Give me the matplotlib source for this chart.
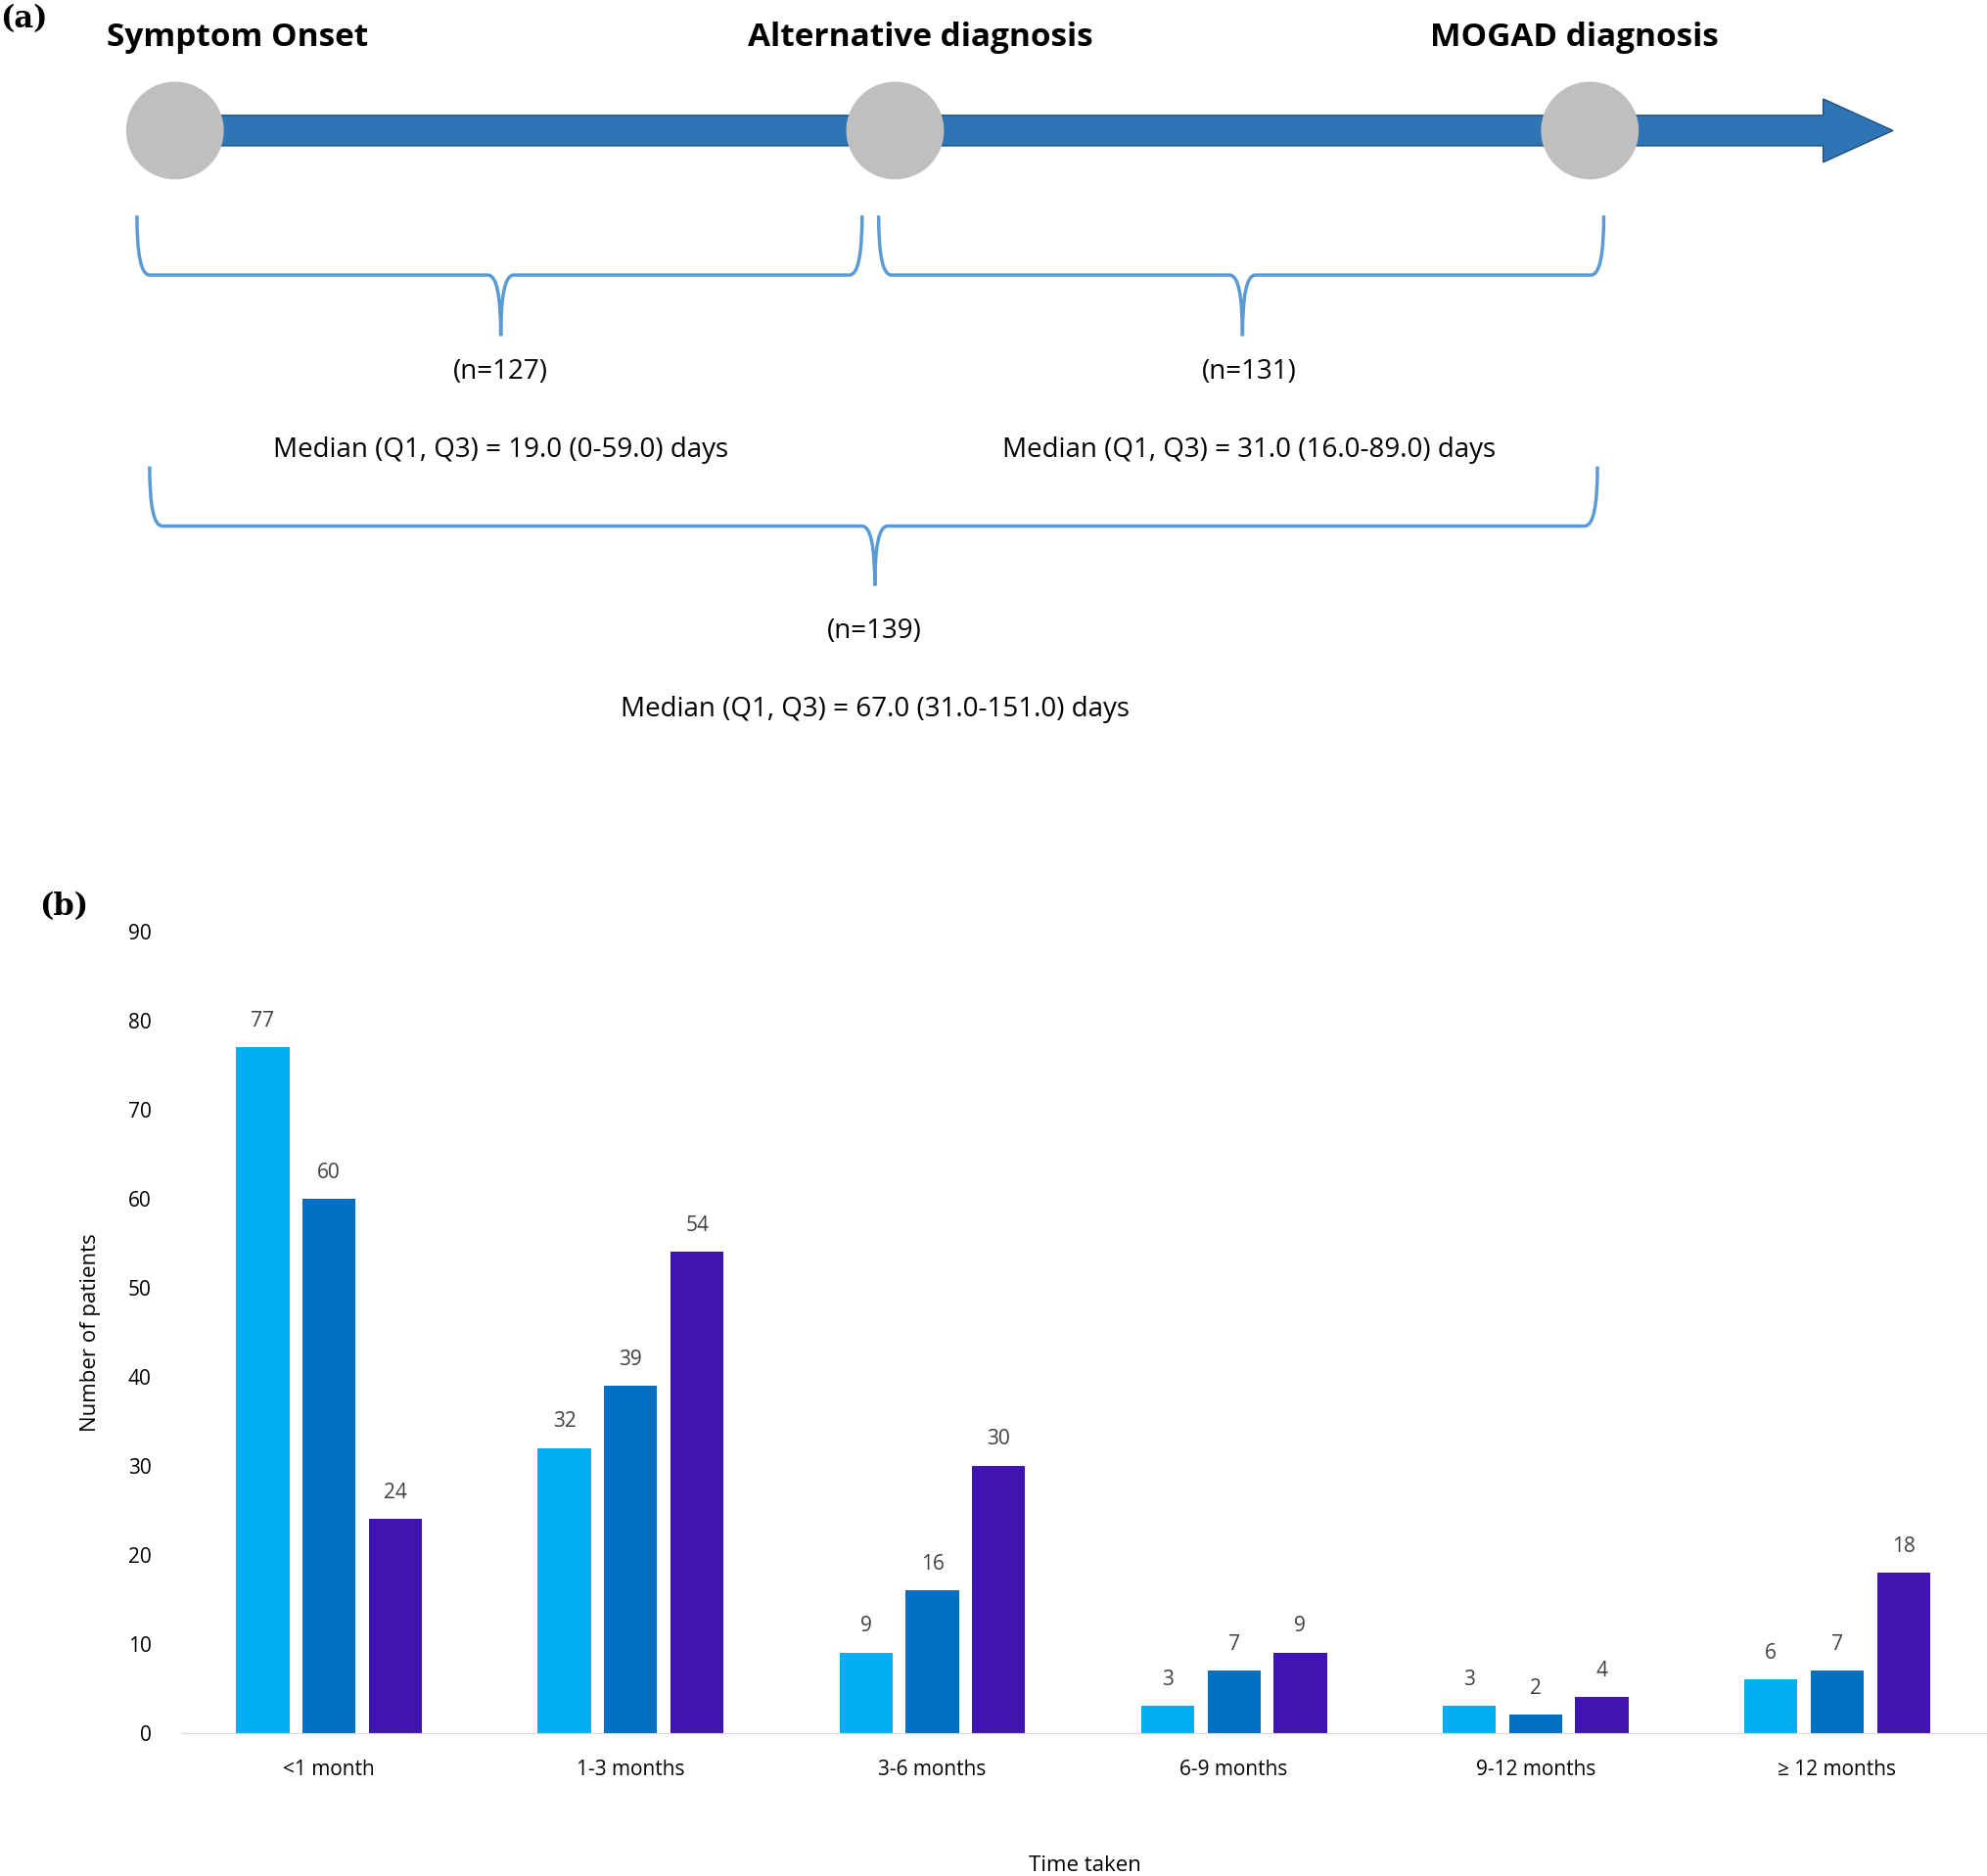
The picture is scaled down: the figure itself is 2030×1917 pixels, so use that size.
import matplotlib
matplotlib.use("Agg")
import matplotlib.pyplot as plt
from matplotlib.path import Path
from matplotlib.patches import PathPatch, Circle, FancyArrow
import numpy as np

plt.rcParams['font.family'] = ['Open Sans', 'DejaVu Sans']

categories = ["<1 month", "1-3 months", "3-6 months", "6-9 months", "9-12 months", "\u2265 12 months"]
onset_to_alt = [77, 32, 9, 3, 3, 6]
alt_to_mogad = [60, 39, 16, 7, 2, 7]
onset_to_mogad = [24, 54, 30, 9, 4, 18]
series_names = ["Time from symptom onset to alternative\ndiagnosis",
                "Time from alternative diagnosis to MOGAD\ndiagnosis",
                "Time from onset of symptoms to MOGAD\ndiagnosis"]
colors = ["#00B0F0", "#0070C0", "#4014B0"]
legend_colors = ["#00B0F0", "#A6A6A6", "#4014B0"]
y_ticks = list(range(0, 100, 10))

W, H = 1568, 1480
fig = plt.figure(figsize=(20.31, 19.17), dpi=100)
top = fig.add_axes([0, 0, 1, 1])
top.set_xlim(0, W); top.set_ylim(H, 0); top.axis('off')

fig.text(0.0, 1 - 15 / H, "(a)", fontsize=22, fontweight='bold', family='DejaVu Serif', va='center')
fig.text(0.02, 1 - 715 / H, "(b)", fontsize=22, fontweight='bold', family='DejaVu Serif', va='center')

# arrow
top.add_patch(FancyArrow(138, 103, 1355, 0, width=24, head_width=50, head_length=55,
                         length_includes_head=True, color="#2E75B6", ec="#1F4E79", lw=1))
for cx in [138, 706, 1254]:
    top.add_patch(Circle((cx, 103), 38, color="#BFBFBF", zorder=3))
for txt, x in [("Symptom Onset", 187), ("Alternative diagnosis", 726), ("MOGAD diagnosis", 1242)]:
    top.text(x, 30, txt, fontsize=24, fontweight='bold', ha='center', va='center')

def brace(x1, x2, xm, ytop, ymid, ybot):
    r = 10
    verts = [(x1, ytop), (x1, ymid), (x1 + r, ymid), (x1 + r, ymid),
             (xm - r, ymid), (xm, ymid), (xm, ybot), (xm, ymid), (xm + r, ymid),
             (x2 - r, ymid), (x2 - r, ymid), (x2, ymid), (x2, ytop)]
    codes = [Path.MOVETO, Path.CURVE3, Path.CURVE3, Path.LINETO,
             Path.LINETO, Path.CURVE3, Path.CURVE3, Path.CURVE3, Path.CURVE3,
             Path.LINETO, Path.LINETO, Path.CURVE3, Path.CURVE3]
    top.add_patch(PathPatch(Path(verts, codes), fill=False, ec="#5B9BD5", lw=2.5))

brace(108, 680, 395, 170, 217, 265)
brace(693, 1265, 980, 170, 217, 265)
brace(118, 1260, 690, 368, 415, 462)

top.text(395, 293, "(n=127)", fontsize=20, ha='center', va='center')
top.text(395, 355, "Median (Q1, Q3) = 19.0 (0-59.0) days", fontsize=20, ha='center', va='center')
top.text(985, 293, "(n=131)", fontsize=20, ha='center', va='center')
top.text(985, 355, "Median (Q1, Q3) = 31.0 (16.0-89.0) days", fontsize=20, ha='center', va='center')
top.text(690, 498, "(n=139)", fontsize=20, ha='center', va='center')
top.text(690, 560, "Median (Q1, Q3) = 67.0 (31.0-151.0) days", fontsize=20, ha='center', va='center')

# bar chart
ax = fig.add_axes([143 / W, 1 - 1367 / H, 1 - 143 / W, (1367 - 735) / H])
x = np.arange(len(categories))
bw = 0.176
off = 0.22
for i, (vals, c) in enumerate(zip([onset_to_alt, alt_to_mogad, onset_to_mogad], colors)):
    bars = ax.bar(x + (i - 1) * off, vals, bw, color=c)
    for b, v in zip(bars, vals):
        ax.text(b.get_x() + b.get_width() / 2, v + 1.8, str(v), ha='center', va='bottom',
                fontsize=15, color="#404040")
ax.set_xlim(-0.49, 5.5)
ax.set_ylim(0, 90)
ax.set_yticks(y_ticks)
ax.set_xticks(x)
ax.set_xticklabels(categories, fontsize=15)
ax.tick_params(axis='y', labelsize=15, length=0, pad=22)
ax.tick_params(axis='x', length=0, pad=20)
for s in ['top', 'right', 'left']:
    ax.spines[s].set_visible(False)
ax.spines['bottom'].set_color("#D9D9D9")
ax.set_ylabel("Number of patients", fontsize=16, labelpad=20)
ax.set_xlabel("Time taken", fontsize=16, labelpad=55)

for k, (name, c) in enumerate(zip(series_names, legend_colors)):
    yy = 800 + 86 * k
    top.add_patch(plt.Rectangle((1148, yy - 5), 10, 10, color=c))
    top.text(1163, yy - 10, name, fontsize=15, color="#595959", va='top', linespacing=1.5)

fig.savefig("out.png", dpi=100)
